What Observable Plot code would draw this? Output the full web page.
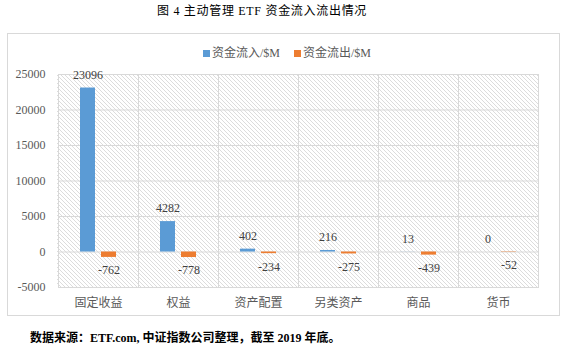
<!DOCTYPE html>
<html>
<head>
<meta charset="utf-8">
<script src="https://cdn.jsdelivr.net/npm/d3@7"></script>
<script src="https://cdn.jsdelivr.net/npm/@observablehq/plot@0.6"></script>
<style>
  html, body { margin: 0; padding: 0; background: #fff; }
  body { width: 568px; height: 353px; position: relative; overflow: hidden;
         font-family: "Liberation Serif", "Noto Sans CJK SC", serif; }
  #title { position: absolute; top: 3px; left: 157px; font-size: 12px; line-height: 16px; color: #000; white-space: nowrap; letter-spacing: 0.7px; }
  #box { position: absolute; left: 7px; top: 33px; width: 551px; height: 281px; border: 1px solid #d9d9d9; }
  #legend { position: absolute; top: 45px; left: 203px; font-size: 12px; line-height: 16px; color: #595959; display: flex; white-space: nowrap; }
  #legend .item { display: flex; align-items: center; }
  #legend .sw { width: 7px; height: 7px; margin-right: 2px; }
  #chart { position: absolute; left: 0; top: 62px; }
  #caption { position: absolute; top: 330px; left: 30px; font-size: 12px; line-height: 16px; color: #000; font-weight: bold; white-space: nowrap; }
</style>
</head>
<body>
<div id="title">图 4 主动管理 ETF 资金流入流出情况</div>
<div id="box"></div>
<div id="legend"></div>
<div id="chart"></div>
<div id="caption">数据来源：ETF.com, 中证指数公司整理，截至 2019 年底。</div>
<script>
const categories = ["固定收益", "权益", "资产配置", "另类资产", "商品", "货币"];
const inflow = [23096, 4282, 402, 216, 13, 0];
const outflow = [-762, -778, -234, -275, -439, -52];
const seriesNames = ["资金流入/$M", "资金流出/$M"];
const seriesColors = ["#5B9BD5", "#ED7D31"];
const yTicks = [-5000, 0, 5000, 10000, 15000, 20000, 25000];

const rows = categories.flatMap((c, i) => [
  {category: c, series: seriesNames[0], value: inflow[i]},
  {category: c, series: seriesNames[1], value: outflow[i]}
]);
const inRows = rows.filter(d => d.series === seriesNames[0]);
const outRows = rows.filter(d => d.series === seriesNames[1]);

// legend
const legend = document.getElementById("legend");
seriesNames.forEach((s, i) => {
  const item = document.createElement("div");
  item.className = "item";
  item.style.marginRight = i === 0 ? "14px" : "0";
  const sw = document.createElement("div");
  sw.className = "sw";
  sw.style.background = seriesColors[i];
  const t = document.createElement("span");
  t.textContent = s;
  item.appendChild(sw); item.appendChild(t);
  legend.appendChild(item);
});

const chart = Plot.plot({
  width: 568,
  height: 254,
  marginTop: 12,
  marginBottom: 29,
  marginLeft: 57,
  marginRight: 30,
  style: {fontFamily: "'Liberation Serif', 'Noto Sans CJK SC', serif", fontSize: "12px", color: "#595959", background: "transparent", overflow: "visible"},
  fx: {domain: categories, padding: 0, label: null, tickSize: 0, tickPadding: 11},
  x: {domain: seriesNames, paddingInner: 0.273, paddingOuter: 0.955, axis: null},
  y: {domain: [-5000, 25000], ticks: yTicks, tickSize: 0, tickPadding: 13, tickFormat: d => String(d), label: null},
  color: {domain: seriesNames, range: seriesColors},
  marks: [
    Plot.ruleY(yTicks, {stroke: "#d9d9d9", strokeWidth: 1}),
    Plot.frame({stroke: "#d9d9d9", strokeWidth: 1}),
    Plot.barY(rows, {fx: "category", x: "series", y: "value", fill: "series"}),
    Plot.text(inRows, {fx: "category", x: "series", y: "value", text: d => String(d.value), dy: -13, fill: "#404040"}),
    Plot.text(outRows, {fx: "category", x: "series", y: "value", text: d => String(d.value), dy: 13, fill: "#404040"})
  ]
});

// hatched plot background
const svg = d3.select(chart);
const defs = svg.insert("defs", ":first-child");
const pat = defs.append("pattern").attr("id", "hatch").attr("patternUnits", "userSpaceOnUse")
  .attr("width", 4).attr("height", 4);
pat.append("path").attr("d", "M-1,-1L5,5M-1,3L1,5M3,-1L5,1").attr("stroke", "#dcdcdc").attr("stroke-width", 1);
svg.insert("rect", "defs + *").attr("x", 57).attr("y", 12).attr("width", 568 - 57 - 30).attr("height", 254 - 12 - 29)
  .attr("fill", "url(#hatch)");

document.getElementById("chart").appendChild(chart);
</script>
</body>
</html>
